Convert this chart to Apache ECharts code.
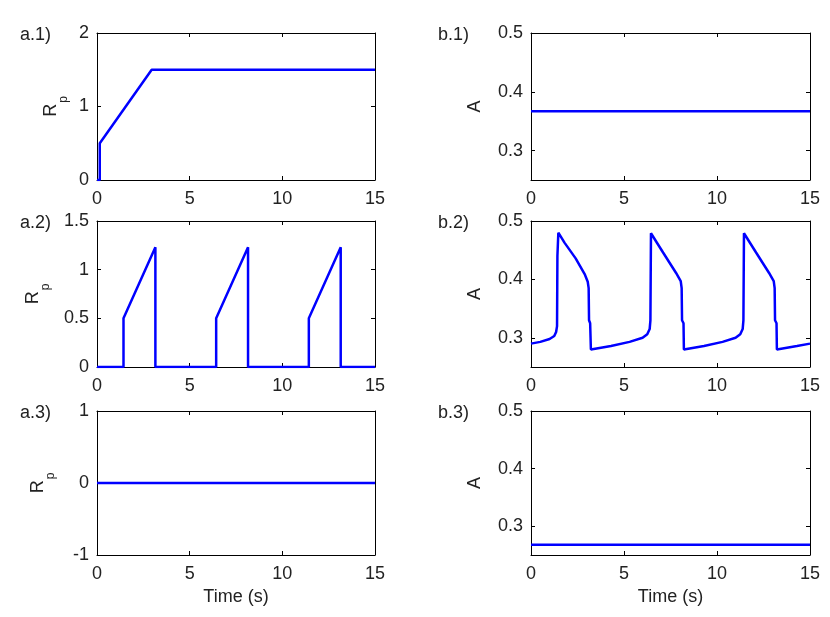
<!DOCTYPE html>
<html>
<head>
<meta charset="utf-8">
<script src="https://cdn.jsdelivr.net/npm/echarts@6/dist/echarts.min.js"></script>
<style>
html, body { margin: 0; padding: 0; background: #fff; }
#chart { width: 830px; height: 617px; }
</style>
</head>
<body>
<div id="chart"></div>
<script>
// tick values
const timeTicks = [0, 5, 10, 15];
const aTicks = [0.3, 0.4, 0.5];

// a.1) Rp: step, ramp, then constant
const rp1Time = [0, 0.15, 0.15, 2.95, 15];
const rp1Vals = [0, 0, 0.5, 1.5, 1.5];

// a.2) Rp: three pulses
const rp2Time = [0, 1.43, 1.43, 3.15, 3.15, 6.43, 6.43, 8.15, 8.15, 11.43, 11.43, 13.15, 13.15, 15];
const rp2Vals = [0, 0, 0.5, 1.23, 0, 0, 0.5, 1.23, 0, 0, 0.5, 1.23, 0, 0];

// a.3) Rp: zero
const rp3Time = [0, 15];
const rp3Vals = [0, 0];

// b.1) A: constant
const a1Time = [0, 15];
const a1Vals = [0.367, 0.367];

// b.2) A: response to the pulses
const a2Time = [0, 0.5, 1.0, 1.25, 1.35, 1.40, 1.42, 1.47, 1.8, 2.4,
  2.9, 3.05, 3.10, 3.12, 3.18, 3.22, 3.3, 4.3, 5.3, 6.0,
  6.25, 6.38, 6.42, 6.45, 7.1, 7.8, 8.05, 8.10, 8.12, 8.20,
  8.22, 8.3, 9.3, 10.3, 11.0, 11.25, 11.38, 11.42, 11.45, 12.1,
  12.8, 13.05, 13.10, 13.12, 13.20, 13.22, 13.3, 14.3, 15];
const a2Vals = [0.290, 0.293, 0.298, 0.303, 0.310, 0.320, 0.440, 0.480, 0.463, 0.436,
  0.408, 0.396, 0.385, 0.330, 0.325, 0.280, 0.280, 0.286, 0.293, 0.300,
  0.306, 0.315, 0.330, 0.479, 0.446, 0.411, 0.397, 0.385, 0.330, 0.325,
  0.280, 0.280, 0.286, 0.293, 0.300, 0.306, 0.315, 0.330, 0.479, 0.446,
  0.411, 0.397, 0.385, 0.330, 0.325, 0.280, 0.280, 0.286, 0.290];

// b.3) A: constant
const a3Time = [0, 15];
const a3Vals = [0.268, 0.268];

const font = 'Liberation Sans, Arial, sans-serif';
const ink = '#222';
const blue = '#0000ff';

const layout = [
  { left: 97, top: 33, width: 278, height: 147 },
  { left: 531, top: 33, width: 279, height: 147 },
  { left: 97, top: 221, width: 278, height: 146 },
  { left: 531, top: 221, width: 279, height: 146 },
  { left: 97, top: 411, width: 278, height: 144 },
  { left: 531, top: 411, width: 279, height: 144 }
];

const panels = [
  { tag: 'a.1)', time: rp1Time, vals: rp1Vals, min: 0, max: 2, interval: 1, name: 'rp', gap: 35 },
  { tag: 'b.1)', time: a1Time, vals: a1Vals, min: 0.25, max: 0.5, ticks: aTicks, name: 'A', gap: 47 },
  { tag: 'a.2)', time: rp2Time, vals: rp2Vals, min: 0, max: 1.5, interval: 0.5, name: 'rp', gap: 53 },
  { tag: 'b.2)', time: a2Time, vals: a2Vals, min: 0.25, max: 0.5, ticks: aTicks, name: 'A', gap: 47 },
  { tag: 'a.3)', time: rp3Time, vals: rp3Vals, min: -1, max: 1, interval: 1, name: 'rp', gap: 48 },
  { tag: 'b.3)', time: a3Time, vals: a3Vals, min: 0.25, max: 0.5, ticks: aTicks, name: 'A', gap: 47 }
];

const tagPos = [[20, 26], [438, 26], [20, 214], [438, 214], [20, 404], [438, 404]];

const line = { onZero: false, lineStyle: { color: '#000', width: 1 } };
const tick = { inside: true, length: 4, lineStyle: { color: '#000', width: 1 } };
const lbl = { color: ink, fontSize: 18, fontFamily: font };

const grid = [], xAxis = [], yAxis = [], series = [], title = [];

panels.forEach((p, i) => {
  grid.push(layout[i]);
  const last = i >= 4;
  ['bottom', 'top'].forEach(pos => {
    xAxis.push({
      type: 'value', gridIndex: i, position: pos,
      min: timeTicks[0], max: timeTicks[timeTicks.length - 1], interval: timeTicks[1] - timeTicks[0],
      axisLine: line, axisTick: tick, splitLine: { show: false },
      axisLabel: Object.assign({ show: pos === 'bottom', margin: 10 }, lbl),
      name: pos === 'bottom' && last ? 'Time (s)' : '',
      nameLocation: 'middle', nameGap: 33,
      nameTextStyle: lbl
    });
  });
  ['left', 'right'].forEach(pos => {
    const ax = {
      type: 'value', gridIndex: i, position: pos,
      min: p.min, max: p.max,
      axisLine: line, axisTick: Object.assign({}, tick), splitLine: { show: false },
      axisLabel: Object.assign({ show: pos === 'left', margin: 8 }, lbl)
    };
    if (p.ticks) {
      ax.axisTick.customValues = p.ticks;
      ax.axisLabel.customValues = p.ticks;
    } else {
      ax.interval = p.interval;
    }
    if (pos === 'left') {
      ax.nameLocation = 'middle';
      ax.nameRotate = 90;
      ax.nameGap = p.gap;
      if (p.name === 'rp') {
        ax.name = '{r|R}{s|p}';
        ax.nameTextStyle = {
          rich: {
            r: { fontSize: 18, fontFamily: font, color: ink, lineHeight: 20, verticalAlign: 'top' },
            s: { fontSize: 12, fontFamily: font, color: ink, lineHeight: 12, verticalAlign: 'top', padding: [16, 0, 0, 1] }
          }
        };
      } else {
        ax.name = p.name;
        ax.nameTextStyle = Object.assign({ lineHeight: 18 }, lbl);
      }
    }
    yAxis.push(ax);
  });
  series.push({
    type: 'line',
    xAxisIndex: i * 2, yAxisIndex: i * 2,
    showSymbol: false,
    lineStyle: { color: blue, width: 2.5 },
    data: p.time.map((t, k) => [t, p.vals[k]])
  });
  title.push({
    text: p.tag, left: tagPos[i][0], top: tagPos[i][1], padding: 0,
    textStyle: { color: ink, fontSize: 18, fontWeight: 'normal', fontFamily: font }
  });
});

const chart = echarts.init(document.getElementById('chart'));
chart.setOption({
  backgroundColor: '#fff',
  animation: false,
  title, grid, xAxis, yAxis, series
});
</script>
</body>
</html>
